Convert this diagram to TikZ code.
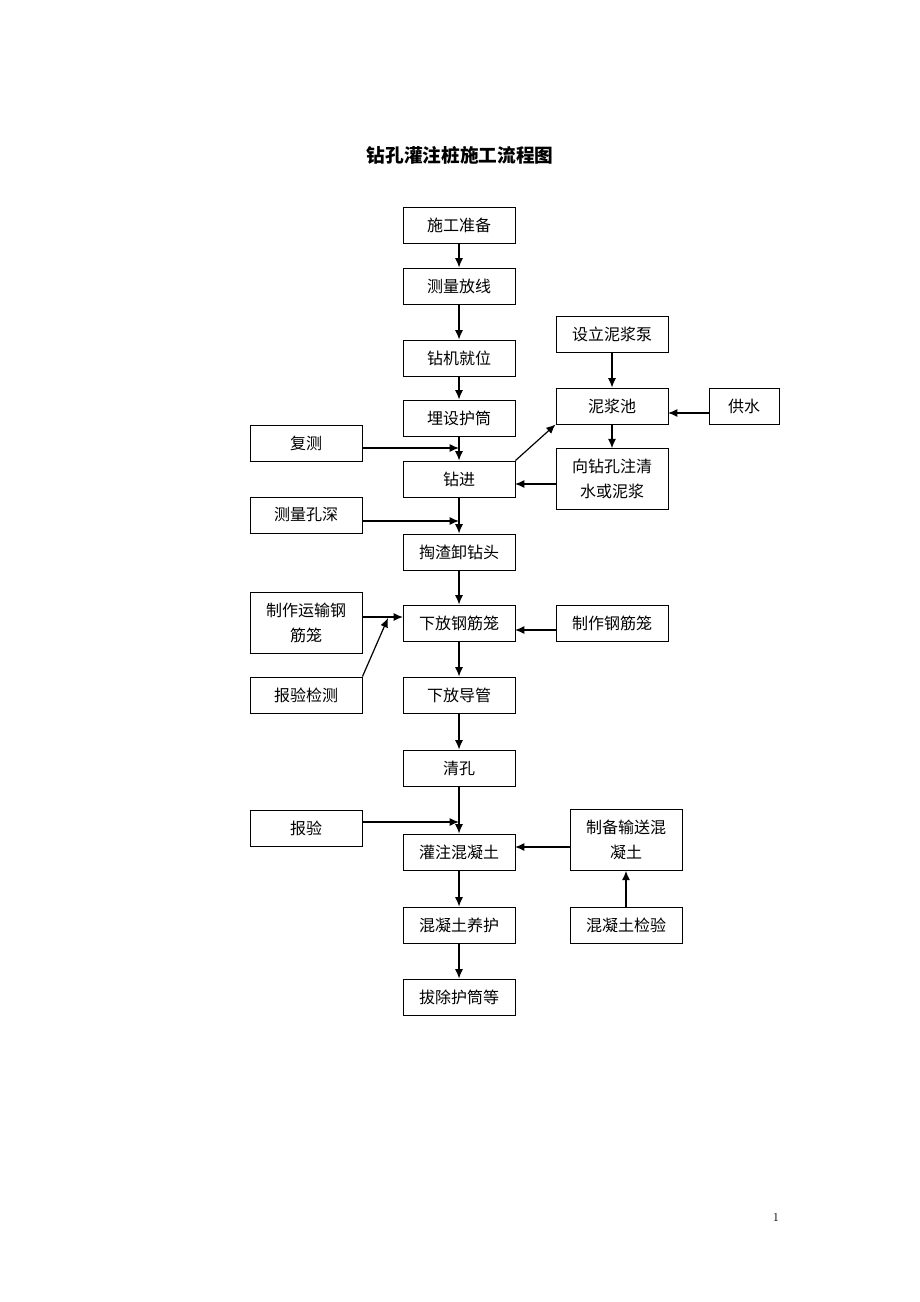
\documentclass[tikz,border=0pt]{standalone}
\usepackage{fontspec}
\newfontfamily\cjk{Noto Sans CJK SC}
\usetikzlibrary{arrows.meta}
\tikzset{
 block/.style = {
    rectangle, draw, line width=0.7pt,
    minimum width=84pt, minimum height=27pt,
    inner sep=1pt, align=center,
    font=\cjk\fontsize{12}{19}\selectfont},
 tall block/.style = {
    block, minimum height=45.5pt},
 line/.style = {
    draw, line width=0.9pt, -{Latex[length=7pt,width=6pt]}},
}
\begin{document}
\begin{tikzpicture}[x=0.75pt, y=-0.75pt]
\useasboundingbox (0,0) rectangle (920,1302);

% Title
\node (title) at (460,155) {\cjk\bfseries\fontsize{14}{16}\selectfont 钻孔灌注桩施工流程图};

% Main column
\node [block] (zhunbei)  at (459,225) {施工准备};
\node [block] (fangxian) at (459,286) {测量放线};
\node [block] (jiuwei)   at (459,358) {钻机就位};
\node [block] (hutong)   at (459,418) {埋设护筒};
\node [block] (zuanjin)  at (459,479) {钻进};
\node [block] (taozha)   at (459,552) {掏渣卸钻头};
\node [block] (gangjin)  at (459,623) {下放钢筋笼};
\node [block] (daoguan)  at (459,695) {下放导管};
\node [block] (qingkong) at (459,768) {清孔};
\node [block] (guanzhu)  at (459,852) {灌注混凝土};
\node [block] (yanghu)   at (459,925) {混凝土养护};
\node [block] (bachu)    at (459,997) {拔除护筒等};

% Left column
\node [block] (fuce)    at (306,443) {复测};
\node [block] (kongshen) at (306,515) {测量孔深};
\node [tall block] (yunshu) at (306,623) {制作运输钢\\筋笼};
\node [block] (jiance)  at (306,695) {报验检测};
\node [block] (baoyan)  at (306,828) {报验};

% Right column
\node [block] (nibengg)  at (612,334) {设立泥浆泵};
\node [block] (nichi)    at (612,406) {泥浆池};
\node [block, minimum width=52.5pt] (gongshui) at (744,406) {供水};
\node [tall block] (zhuqing) at (612,479) {向钻孔注清\\水或泥浆};
\node [block] (zhilong)  at (612,623) {制作钢筋笼};
\node [tall block] (zhibei) at (626,840) {制备输送混\\凝土};
\node [block] (jianyan)  at (626,925) {混凝土检验};

% Page number
\node (page) at (776,1217) {\fontsize{9}{10}\selectfont 1};

% Connector ends
\coordinate (fcin)  at (459,448);
\coordinate (ksin)  at (459,521);
\coordinate (ysin)  at (403,617);
\coordinate (jcin)  at (388,618);
\coordinate (zlin)  at (515,630);
\coordinate (gsin)  at (668,413);
\coordinate (zqin)  at (515,484);
\coordinate (byin)  at (459,822);
\coordinate (zbin)  at (515,847);

% Main chain
\draw[line] (zhunbei) -- (fangxian);
\draw[line] (fangxian) -- (jiuwei);
\draw[line] (jiuwei) -- (hutong);
\draw[line] (hutong) -- (zuanjin);
\draw[line] (zuanjin) -- (taozha);
\draw[line] (taozha) -- (gangjin);
\draw[line] (gangjin) -- (daoguan);
\draw[line] (daoguan) -- (qingkong);
\draw[line] (qingkong) -- (guanzhu);
\draw[line] (guanzhu) -- (yanghu);
\draw[line] (yanghu) -- (bachu);

% Side inputs
\draw[line] (fuce.east |- fcin) -- (fcin);
\draw[line] (kongshen.east |- ksin) -- (ksin);
\draw[line] (yunshu.east |- ysin) -- (ysin);
\draw[line] (jiance.north east) -- (jcin);
\draw[line] (zhilong.west |- zlin) -- (zlin);
\draw[line] (baoyan.east |- byin) -- (byin);
\draw[line] (zhibei.west |- zbin) -- (zbin);
\draw[line] (jianyan) -- (zhibei);

% Mud circuit
\draw[line] (zuanjin.north east) -- (nichi.south west);
\draw[line] (nibengg) -- (nichi);
\draw[line] (nichi) -- (zhuqing);
\draw[line] (gongshui.west |- gsin) -- (gsin);
\draw[line] (zhuqing.west |- zqin) -- (zqin);
\end{tikzpicture}
\end{document}
